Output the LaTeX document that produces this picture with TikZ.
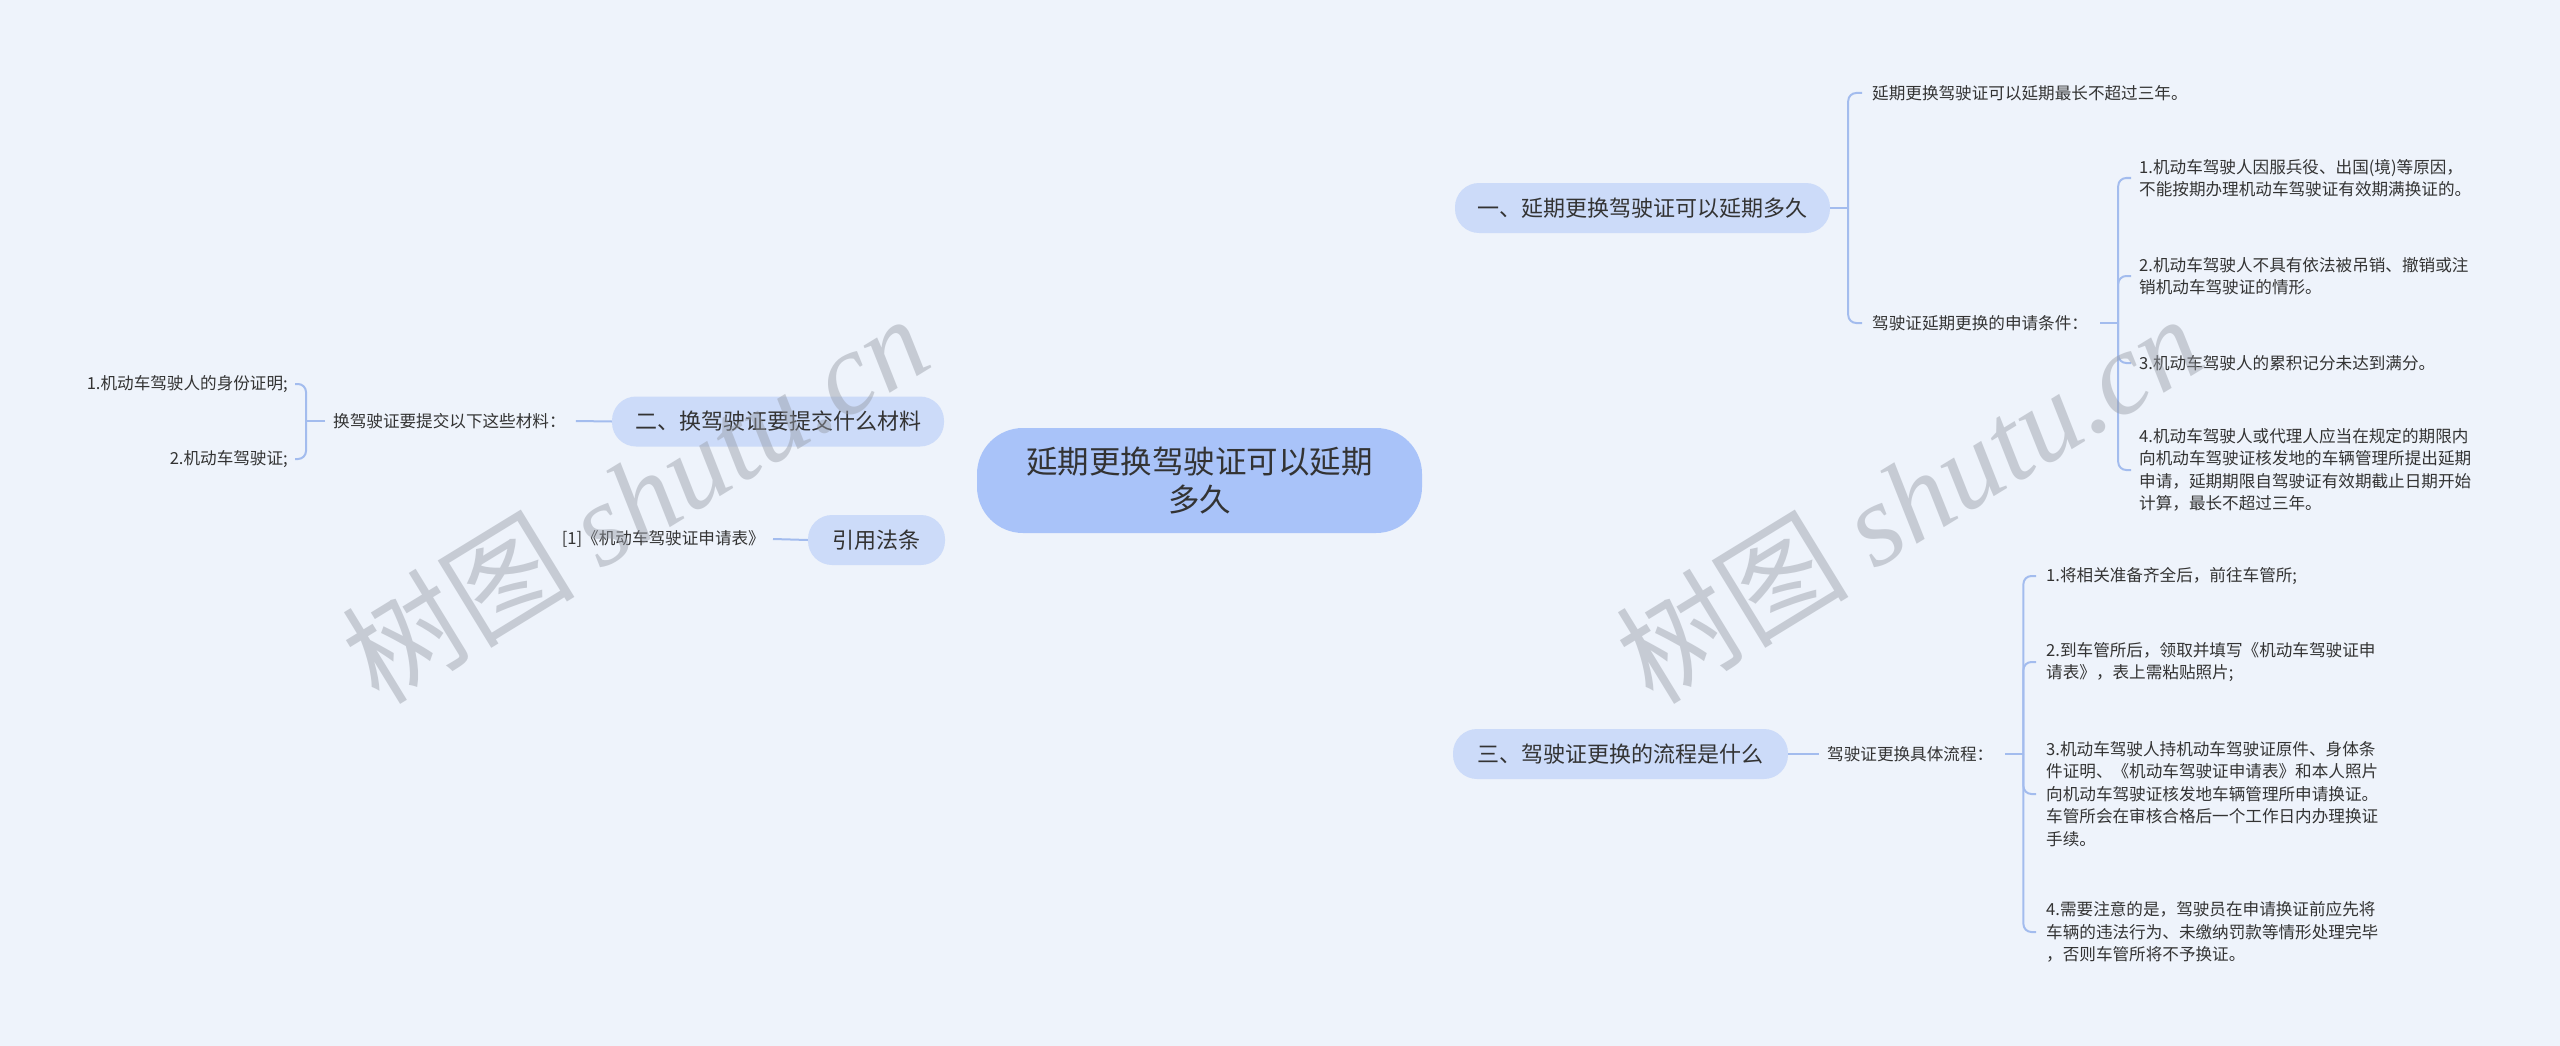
\documentclass[tikz,border=0pt]{standalone}
\usepackage{fontspec}
\setmainfont{Noto Sans CJK SC}
\newfontfamily\wmlatin{Liberation Serif}
\usetikzlibrary{calc}
\definecolor{bgc}{HTML}{EEF3FB}
\definecolor{rootc}{HTML}{A9C3F9}
\definecolor{brc}{HTML}{CCDBF9}
\definecolor{linec}{HTML}{A3BCEE}
\definecolor{txt}{HTML}{333333}
\definecolor{wmc}{HTML}{969BA5}
\pgfdeclarelayer{bg}
\pgfsetlayers{bg,main}
\begin{document}
\begin{tikzpicture}[x=1pt,y=-1pt,
  rootbox/.style={rectangle, rounded corners=46pt, fill=rootc, minimum width=445pt, minimum height=105pt, align=center, text=txt, font=\fontsize{31.5}{38}\selectfont, inner sep=0pt},
  brbox/.style={rectangle, rounded corners=24pt, fill=brc, minimum height=50pt, text=txt, font=\fontsize{22}{26}\selectfont, inner sep=0pt},
  leaf/.style={inner sep=0pt, align=left, text=txt, font=\fontsize{16.6}{22.5}\selectfont},
  conn/.style={draw=linec, line width=2.6pt},
  brk/.style={draw=linec, line width=2pt, rounded corners=8pt},
  wm/.style={text=wmc, opacity=0.45, rotate=31.5, anchor=base west, font=\fontsize{117}{117}\selectfont}
]
\fill[bgc] (0,0) rectangle (2560,1046);
\useasboundingbox (0,0) rectangle (2560,1046);

% root and main branches
\node[rootbox] (root) at (1199.5,480.5) {延期更换驾驶证可以延期\\多久};
\node[brbox, minimum width=375pt] (b1) at (1642.5,208) {一、延期更换驾驶证可以延期多久};
\node[brbox, minimum width=332pt] (b2) at (778,421.5) {二、换驾驶证要提交什么材料};
\node[brbox, minimum width=137pt] (b3) at (876.5,540) {引用法条};
\node[brbox, minimum width=335pt] (b4) at (1620.5,754) {三、驾驶证更换的流程是什么};

% upper right leaves
\node[leaf, anchor=west] (a1) at (1872,93) {延期更换驾驶证可以延期最长不超过三年。};
\node[leaf, anchor=west] (a2) at (1872,323) {驾驶证延期更换的申请条件：};
\node[leaf, anchor=west] (c1) at (2139,178) {1.机动车驾驶人因服兵役、出国(境)等原因，\\不能按期办理机动车驾驶证有效期满换证的。};
\node[leaf, anchor=west] (c2) at (2139,276) {2.机动车驾驶人不具有依法被吊销、撤销或注\\销机动车驾驶证的情形。};
\node[leaf, anchor=west] (c3) at (2139,363) {3.机动车驾驶人的累积记分未达到满分。};
\node[leaf, anchor=west] (c4) at (2139,470) {4.机动车驾驶人或代理人应当在规定的期限内\\向机动车驾驶证核发地的车辆管理所提出延期\\申请，延期期限自驾驶证有效期截止日期开始\\计算，最长不超过三年。};

% lower right leaves
\node[leaf, anchor=west] (p0) at (1827,754) {驾驶证更换具体流程：};
\node[leaf, anchor=west] (p1) at (2046,576) {1.将相关准备齐全后，前往车管所;};
\node[leaf, anchor=west] (p2) at (2046,662) {2.到车管所后，领取并填写《机动车驾驶证申\\请表》，表上需粘贴照片;};
\node[leaf, anchor=west] (p3) at (2046,794) {3.机动车驾驶人持机动车驾驶证原件、身体条\\件证明、《机动车驾驶证申请表》和本人照片\\向机动车驾驶证核发地车辆管理所申请换证。\\车管所会在审核合格后一个工作日内办理换证\\手续。};
\node[leaf, anchor=west] (p4) at (2046,932) {4.需要注意的是，驾驶员在申请换证前应先将\\车辆的违法行为、未缴纳罚款等情形处理完毕\\，否则车管所将不予换证。};

% left leaves
\node[leaf, anchor=west] (m0) at (333,421) {换驾驶证要提交以下这些材料：};
\node[leaf, anchor=east] (m1) at (288,384) {1.机动车驾驶人的身份证明;};
\node[leaf, anchor=east] (m2) at (288,459) {2.机动车驾驶证;};
\node[leaf, anchor=east] (r1) at (765,539) {[1]《机动车驾驶证申请表》};

% connectors
\begin{pgfonlayer}{bg}
\draw[conn] ([xshift=2pt]root.north) .. controls +(10,-160) and +(-150,0) .. (b1.west);
\draw[conn] ([xshift=2pt]root.south) .. controls +(10,160) and +(-150,0) .. (b4.west);
\draw[conn] (b2.east) .. controls +(80,0) and +(-80,-8) .. ($(root.center)+(-60,-20)$);
\draw[conn] (b3.east) .. controls +(80,0) and +(-80,8) .. ($(root.center)+(-60,20)$);
\end{pgfonlayer}

% upper right brackets
\draw[brk] (b1.east) -- ++(18,0) coordinate (j1);
\draw[brk] (j1) |- ($(a1.west)+(-10,0)$);
\draw[brk] (j1) |- ($(a2.west)+(-10,0)$);
\draw[brk] ($(a2.east)+(12,0)$) -- ++(18,0) coordinate (j2);
\foreach \n in {c1,c2,c3,c4} \draw[brk] (j2) |- ($(\n.west)+(-8,0)$);

% lower right brackets
\draw[brk] (b4.east) -- ($(p0.west)+(-8,0)$);
\draw[brk] ($(p0.east)+(12,0)$) -- ++(18,0) coordinate (j3);
\foreach \n in {p1,p2,p3,p4} \draw[brk] (j3) |- ($(\n.west)+(-10,0)$);

% left brackets
\draw[brk] (b2.west) -- ($(m0.east)+(10,0)$);
\draw[brk] ($(m0.west)+(-8,0)$) -- ++(-19,0) coordinate (j4);
\foreach \n in {m1,m2} \draw[brk] (j4) |- ($(\n.east)+(7,0)$);
\draw[brk] (b3.west) -- ($(r1.east)+(8,0)$);

% watermarks
\node[wm] (w1) at (376,708) {树图 {\wmlatin\itshape shutu.cn}};
\node[wm] (w2) at (1650,708) {树图 {\wmlatin\itshape shutu.cn}};
\end{tikzpicture}
\end{document}
